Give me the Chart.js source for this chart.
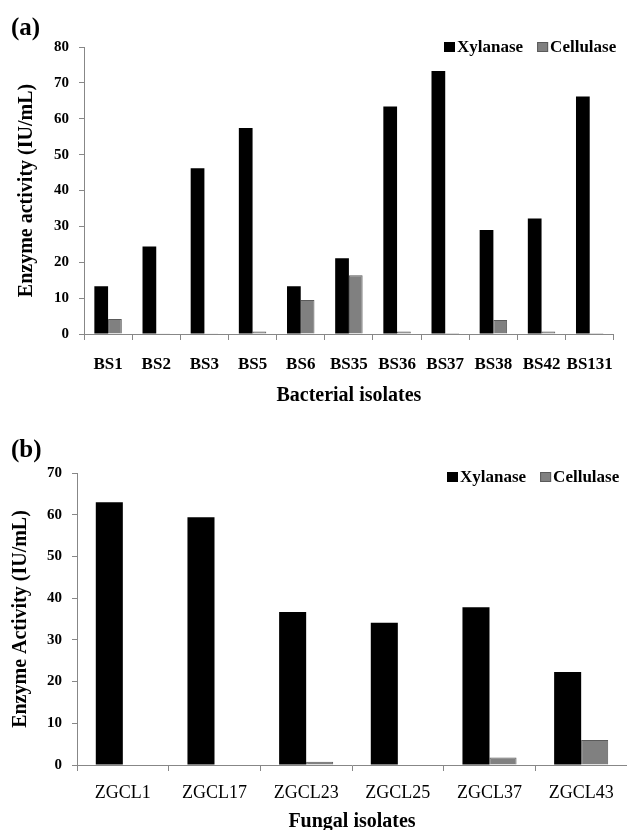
<!DOCTYPE html>
<html>
<head>
<meta charset="utf-8">
<script src="https://cdn.jsdelivr.net/npm/chart.js@4.4.1/dist/chart.umd.min.js"></script>
<style>
  html, body { margin: 0; padding: 0; background: #fff; }
  body { width: 627px; height: 830px; position: relative; overflow: hidden; }
  .panel { position: absolute; left: 0; width: 627px; height: 415px; }
  .tag { position: absolute; left: 11px; font: bold 25px 'Liberation Serif', serif; color: #000; }
</style>
</head>
<body>
<div class="panel" style="top:0"><canvas id="chartA"></canvas></div>
<div class="panel" style="top:415px"><canvas id="chartB"></canvas></div>
<div class="tag" style="top:13px">(a)</div>
<div class="tag" style="top:435px">(b)</div>
<script>
var bacterialIsolates = ['BS1', 'BS2', 'BS3', 'BS5', 'BS6', 'BS35', 'BS36', 'BS37', 'BS38', 'BS42', 'BS131'];
var bacterialXylanase = [13.3, 24.4, 46.2, 57.4, 13.3, 21.1, 63.4, 73.3, 29.0, 32.2, 66.2];
var bacterialCellulase = [4.2, 0.2, 0.2, 0.7, 9.5, 16.4, 0.7, 0.3, 3.9, 0.7, 0.3];

var fungalIsolates = ['ZGCL1', 'ZGCL17', 'ZGCL23', 'ZGCL25', 'ZGCL37', 'ZGCL43'];
var fungalXylanase = [63.0, 59.4, 36.7, 34.1, 37.8, 22.3];
var fungalCellulase = [0, 0, 0.8, 0, 1.8, 6.0];

var bacterialMax = 80;
var fungalMax = 70;
var tickStep = 10;

var serif = "'Liberation Serif', 'Times New Roman', serif";
var axisGray = '#878787';

// legend drawn inside the plot area, top right
var insideLegend = {
    id: 'insideLegend',
    afterDraw: function (chart, args, opts) {
        var ctx = chart.ctx;
        var x = opts.x;
        ctx.save();
        ctx.font = 'bold 17px ' + serif;
        ctx.textBaseline = 'middle';
        ctx.textAlign = 'left';
        chart.data.datasets.forEach(function (ds) {
            ctx.fillStyle = ds.backgroundColor;
            ctx.fillRect(x, opts.y - 5, 11, 10);
            if (ds.borderWidth) {
                ctx.strokeStyle = ds.borderColor;
                ctx.lineWidth = 1;
                ctx.strokeRect(x + 0.5, opts.y - 4.5, 10, 9);
            }
            ctx.fillStyle = '#000';
            ctx.fillText(ds.label, x + 13, opts.y + 1);
            x += 13 + ctx.measureText(ds.label).width + 14;
        });
        ctx.restore();
    }
};

function makeChart(id, cfg) {
    return new Chart(document.getElementById(id).getContext('2d'), {
        type: 'bar',
        data: {
            labels: cfg.labels,
            datasets: [
                {
                    label: 'Xylanase',
                    data: cfg.xylanase,
                    backgroundColor: '#000000',
                    borderWidth: 0,
                    barPercentage: 1,
                    categoryPercentage: cfg.catPct
                },
                {
                    label: 'Cellulase',
                    data: cfg.cellulase,
                    backgroundColor: '#808080',
                    borderColor: '#5a5a5a',
                    borderWidth: 1,
                    borderSkipped: 'bottom',
                    barPercentage: 1,
                    categoryPercentage: cfg.catPct
                }
            ]
        },
        plugins: [insideLegend],
        options: {
            responsive: true,
            maintainAspectRatio: false,
            animation: false,
            layout: { padding: { top: cfg.top, right: cfg.right, left: 0, bottom: 0 } },
            plugins: {
                legend: { display: false },
                tooltip: { enabled: false },
                insideLegend: { x: cfg.legendX, y: cfg.legendY }
            },
            scales: {
                x: {
                    afterFit: function (scale) { scale.height = cfg.xHeight; },
                    grid: {
                        drawOnChartArea: false,
                        drawTicks: true,
                        tickLength: 6,
                        tickColor: axisGray
                    },
                    border: { color: axisGray, width: 1 },
                    ticks: {
                        color: '#000',
                        padding: cfg.xTickPad,
                        maxRotation: 0,
                        autoSkip: false,
                        font: { family: serif, size: cfg.xTickSize, weight: cfg.xTickWeight }
                    },
                    title: {
                        display: true,
                        text: cfg.xTitle,
                        color: '#000',
                        font: { family: serif, size: 20, weight: 'bold' },
                        padding: { top: 0, bottom: cfg.xTitlePad }
                    }
                },
                y: {
                    min: 0,
                    max: cfg.max,
                    afterFit: function (scale) { scale.width = cfg.yWidth; },
                    grid: {
                        drawOnChartArea: false,
                        drawTicks: true,
                        tickLength: 5,
                        tickColor: axisGray
                    },
                    border: { color: axisGray, width: 1 },
                    ticks: {
                        stepSize: tickStep,
                        color: '#000',
                        padding: 10,
                        font: { family: serif, size: 15, weight: 'bold' }
                    },
                    title: {
                        display: true,
                        text: cfg.yTitle,
                        color: '#000',
                        font: { family: serif, size: 20, weight: 'bold' },
                        padding: { top: cfg.yTitlePad, bottom: 0 }
                    }
                }
            }
        }
    });
}

makeChart('chartA', {
    labels: bacterialIsolates,
    xylanase: bacterialXylanase,
    cellulase: bacterialCellulase,
    max: bacterialMax,
    catPct: 0.57,
    top: 47,
    right: 3,
    xHeight: 81,
    yWidth: 84,
    xTickSize: 17,
    xTickWeight: 'bold',
    xTickPad: 14,
    xTitle: 'Bacterial isolates',
    xTitlePad: 7,
    yTitle: 'Enzyme activity (IU/mL)',
    yTitlePad: 15,
    legendX: 444,
    legendY: 47
});

makeChart('chartB', {
    labels: fungalIsolates,
    xylanase: fungalXylanase,
    cellulase: fungalCellulase,
    max: fungalMax,
    catPct: 0.59,
    top: 58,
    right: 0,
    xHeight: 65,
    yWidth: 77,
    xTickSize: 18,
    xTickWeight: 'normal',
    xTickPad: 11,
    xTitle: 'Fungal isolates',
    xTitlePad: -4,
    yTitle: 'Enzyme Activity (IU/mL)',
    yTitlePad: 9,
    legendX: 447,
    legendY: 62
});
</script>
</body>
</html>
